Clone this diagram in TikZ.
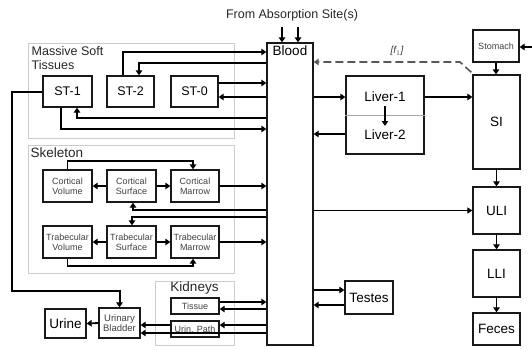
\documentclass[tikz,border=0pt]{standalone}
\usepackage{fontspec}
\setmainfont{Liberation Sans}
\usetikzlibrary{arrows.meta}
\newcommand{\txtbig}{\fontsize{13.5}{15}\selectfont}
\newcommand{\txtmid}{\fontsize{12.5}{14}\selectfont}
\newcommand{\txtsmall}{\fontsize{9}{10}\selectfont}
\tikzset{
  cmpt/.style={draw=black!90, line width=1.3pt, fill=white, inner sep=1pt, align=center, font=\txtbig},
  smallcmpt/.style={cmpt, font=\txtsmall, text=black!75},
  grp/.style={draw=black!20, line width=1pt, inner sep=0pt},
  flow/.style={line width=1.8pt, -{Triangle[length=5pt,width=6.5pt]}},
  thinflow/.style={line width=1pt, -{Triangle[length=5pt,width=6pt]}},
}
\begin{document}
\begin{tikzpicture}[x=1pt, y=-1pt]
    \useasboundingbox (0,0) rectangle (532,349);

    % Grupos de compartimentos
    \node[grp, minimum width=206pt, minimum height=95pt,
      label={[anchor=north west, align=left, font=\txtmid, text=black!85, inner sep=4pt]north west:Massive Soft\\Tissues}] (mst) at (131,90.5) {};
    \node[grp, minimum width=206pt, minimum height=128pt,
      label={[anchor=north west, font=\txtbig, text=black!85, inner sep=3pt]north west:Skeleton}] (skel) at (131,209) {};
    \node[grp, minimum width=79pt, minimum height=64pt,
      label={[anchor=north, font=\txtbig, text=black!85, inner sep=1pt]north:Kidneys}] (kid) at (194.5,313) {};

    % Sangre y entrada
    \node[font=\txtmid, text=black!85] (title) at (292,15) {From Absorption Site(s)};
    \coordinate (abs1) at (282,27);
    \coordinate (abs2) at (298,27);
    \node[cmpt, minimum width=46pt, minimum height=302pt,
      label={[anchor=north, font=\txtbig]north:Blood}] (blood) at (290,194) {};

    % Tejidos blandos
    \node[cmpt, font=\txtmid, minimum width=49pt, minimum height=31pt] (st1) at (67.5,91.5) {ST-1};
    \node[cmpt, font=\txtmid, minimum width=47pt, minimum height=31pt] (st2) at (130.5,91.5) {ST-2};
    \node[cmpt, font=\txtmid, minimum width=47pt, minimum height=31pt] (st0) at (194.5,91.5) {ST-0};

    % Esqueleto
    \node[smallcmpt, minimum width=49pt, minimum height=32pt] (cv) at (67.5,186) {Cortical\\Volume};
    \node[smallcmpt, minimum width=49pt, minimum height=32pt] (cs) at (131.5,186) {Cortical\\Surface};
    \node[smallcmpt, minimum width=48pt, minimum height=32pt] (cm) at (195,186) {Cortical\\Marrow};
    \node[smallcmpt, minimum width=49pt, minimum height=32pt] (tv) at (67.5,242) {Trabecular\\Volume};
    \node[smallcmpt, minimum width=49pt, minimum height=32pt] (ts) at (131.5,242) {Trabecular\\Surface};
    \node[smallcmpt, minimum width=48pt, minimum height=32pt] (tm) at (195,242) {Trabecular\\Marrow};

    % Riñones y excreción urinaria
    \node[smallcmpt, minimum width=48pt, minimum height=16pt] (tissue) at (195,306) {Tissue};
    \node[smallcmpt, minimum width=48pt, minimum height=16pt] (urinpath) at (195,329) {Urin. Path};
    \node[smallcmpt, font=\fontsize{9.5}{10.5}\selectfont, minimum width=41pt, minimum height=30pt] (bladder) at (119.5,323) {Urinary\\Bladder};
    \node[cmpt, minimum width=41pt, minimum height=29pt] (urine) at (65.5,323.5) {Urine};

    % Hígado y testículos
    \node[cmpt, minimum width=78pt, minimum height=78pt] (liver) at (385,115) {};
    \draw[black!35, line width=0.8pt] (liver.west) -- (liver.east);
    \node[font=\txtbig] (liver1) at (385,97) {Liver-1};
    \node[font=\txtbig] (liver2) at (385,135) {Liver-2};
    \node[cmpt, minimum width=48pt, minimum height=33pt] (testes) at (369,297.5) {Testes};

    % Tracto gastrointestinal
    \coordinate (gutin) at (532,47);
    \node[smallcmpt, minimum width=46pt, minimum height=32pt] (stomach) at (496,46) {Stomach};
    \node[cmpt, minimum width=47pt, minimum height=94pt] (si) at (496.5,122) {SI};
    \node[cmpt, minimum width=47pt, minimum height=47pt] (uli) at (496.5,210.5) {ULI};
    \node[cmpt, minimum width=47pt, minimum height=47pt] (lli) at (496.5,273.5) {LLI};
    \node[cmpt, minimum width=47pt, minimum height=32pt] (feces) at (496.5,329) {Feces};

    % Flujos de tejidos blandos
    \draw[flow] ([xshift=-7.5pt]st2.north) |- (blood.west |- 0,52);
    \draw[flow] (blood.west |- 0,63) -| ([xshift=8.5pt]st2.north);
    \draw[flow] (st0.east |- 0,83) -- (blood.west |- 0,83);
    \draw[flow] (blood.west |- 0,97) -- (st0.east |- 0,97);
    \draw[flow] (blood.west |- 0,118) -| ([xshift=9.5pt]st1.south);
    \draw[flow] ([xshift=-6.5pt]st1.south) |- (blood.west |- 0,129);
    \draw[flow, line width=2pt] (st1.west) -| (12,291) -| (bladder.north);

    % Flujos del esqueleto
    \draw[flow] (cv.north) -- ++(0,-8) -| ([xshift=-2pt]cm.north);
    \draw[flow] (cs.west) -- (cv.east);
    \draw[flow] (cs.east) -- (cm.west);
    \draw[flow] (cm.east) -- (blood.west |- cm.east);
    \draw[flow] (blood.west |- 0,210) -| ([xshift=1.5pt]cs.south);
    \draw[flow] (blood.west |- 0,217) -| ([xshift=0.5pt]ts.north);
    \draw[flow] (ts.west) -- (tv.east);
    \draw[flow] (ts.east) -- (tm.west);
    \draw[flow] (tm.east) -- (blood.west |- tm.east);
    \draw[flow] (tv.south) -- ++(0,7) -| ([xshift=-2pt]tm.south);

    % Flujos renales
    \draw[flow] (tissue.east |- 0,302) -- (blood.west |- 0,302);
    \draw[flow] (blood.west |- 0,309) -- (tissue.east |- 0,309);
    \draw[flow] (blood.west |- 0,325) -- (urinpath.east |- 0,325);
    \draw[flow] (urinpath.west |- 0,325) -- (bladder.east |- 0,325);
    \draw[flow] (blood.west |- 0,333) -- (bladder.east |- 0,333);
    \draw[flow] (bladder.west) -- (urine.east);

    % Flujos de la sangre a la derecha
    \draw[flow] (abs1) -- (abs1 |- blood.north);
    \draw[flow] (abs2) -- (abs2 |- blood.north);
    \draw[flow] (blood.east |- liver1) -- (liver.west |- liver1);
    \draw[flow] (liver.west |- 0,134) -- (blood.east |- 0,134);
    \draw[flow] ([yshift=-9pt]liver1.center) -- ([yshift=9pt]liver2.center);
    \draw[flow, line width=2pt] (liver.east |- liver1) -- (si.west |- liver1);
    \coordinate (fbend) at (460,62);
    \draw[flow, line width=1.6pt, black!65, dash pattern=on 8pt off 4pt] ([shift={(-1pt,2pt)}]si.north west) -- (fbend) -- (blood.east |- fbend);
    \node[font=\fontsize{10}{11}\selectfont\itshape, text=black!75] (f1) at (397,51) {[f$_1$]};
    \draw[thinflow] (blood.east |- uli) -- (uli.west);
    \draw[flow] (blood.east |- 0,290) -- (testes.west |- 0,290);
    \draw[flow] (testes.west |- 0,305) -- (blood.east |- 0,305);

    % Tracto gastrointestinal
    \draw[flow] (gutin) -- (stomach.east |- gutin);
    \draw[flow] (stomach.south) -- (si.north -| stomach.south);
    \draw[flow] (si.south) -- (uli.north);
    \draw[flow] (uli.south) -- (lli.north);
    \draw[flow] (lli.south) -- (feces.north);

\end{tikzpicture}
\end{document}
